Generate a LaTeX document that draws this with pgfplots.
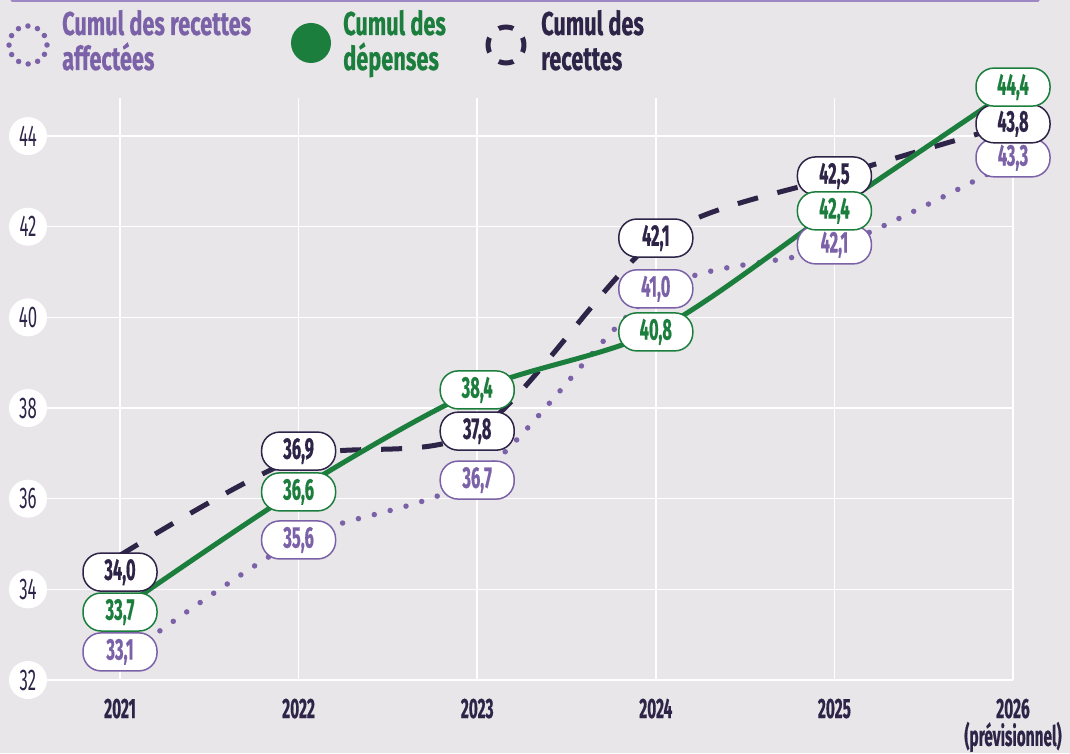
\documentclass[border=0pt]{standalone}
\usepackage{fontspec}
\setmainfont{Fira Sans}[FakeStretch=0.6]
\newfontfamily\fleg{Fira Sans}[FakeStretch=0.66, BoldFeatures={FakeBold=0.5}]
\newfontfamily\fnum{Fira Sans}[FakeStretch=0.55, BoldFeatures={FakeBold=0.5}]
\newfontfamily\ftick{Fira Sans}[FakeStretch=0.56]
\usepackage{pgfplots}
\pgfplotsset{compat=1.18}
\definecolor{bg}{HTML}{E8E6E8}
\definecolor{lpurp}{HTML}{7B62A8}
\definecolor{dgreen}{HTML}{1B7E3D}
\definecolor{dpurp}{HTML}{2E2448}
\definecolor{topl}{HTML}{9E88C4}
\begin{document}
\begin{tikzpicture}[x=1pt,y=1pt]
\useasboundingbox (0,0) rectangle (1070,753);
\fill[bg] (0,0) rectangle (1070,753);
\draw[topl, line width=3pt, line cap=round] (12,752) -- (1038,752);
% legend
\draw[lpurp, line width=5.5pt, line cap=round, dash pattern=on 0pt off 9.95pt] (28,708) circle (19);
\node[anchor=base west, align=left, text=lpurp, font=\fontsize{33}{35}\fleg\bfseries, inner sep=0pt] at (62,683) {Cumul des recettes\\affectées};
\fill[dgreen] (311,710) circle (20);
\node[anchor=base west, align=left, text=dgreen, font=\fontsize{33}{35}\fleg\bfseries, inner sep=0pt] at (343,683) {Cumul des\\dépenses};
\draw[dpurp, line width=5pt, dash pattern=on 15pt off 13.27pt, dash phase=7.5pt] (506,708) circle (18);
\node[anchor=base west, align=left, text=dpurp, font=\fontsize{33}{35}\fleg\bfseries, inner sep=0pt] at (541,683) {Cumul des\\recettes};
\begin{axis}[at={(45pt,73pt)}, anchor=south west, scale only axis,
  width=968pt, height=582pt,
  xmin=2020.58, xmax=2026, ymin=32, ymax=44.84,
  axis line style={draw=none}, major tick length=0pt,
  grid=major, grid style={white, line width=1.5pt},
  xtick={2021,2022,2023,2024,2025,2026},
  xticklabels={2021,2022,2023,2024,2025,{\begin{tabular}[t]{@{}c@{}}2026\\[-4pt](prévisionnel)\end{tabular}}},
  ytick={32,34,36,38,40,42,44},
  xticklabel style={font=\fontsize{28}{26}\fnum\bfseries, text=dpurp, anchor=base, inner sep=0pt, yshift=-38pt},
  yticklabel style={font=\fontsize{30}{30}\ftick, text=dpurp, circle, fill=white, minimum size=38pt, inner sep=0pt, anchor=center, xshift=-17pt},
  /pgf/number format/assume math mode=true,
  clip=false,
]
\addplot[lpurp, line width=5.5pt, line cap=round, dash pattern=on 0pt off 16.4pt, smooth] coordinates {(2021,32.45) (2022,35.1) (2023,36.5) (2024,40.55) (2025,41.55) (2026,43.45)};
\addplot[dpurp, line width=5pt, dash pattern=on 21pt off 20pt, smooth] coordinates {(2021,34.75) (2022,36.9) (2023,37.5) (2024,41.7) (2025,43.1) (2026,44.27)};
\addplot[dgreen, line width=5pt, smooth] coordinates {(2021,33.55) (2022,36.2) (2023,38.4) (2024,39.7) (2025,42.38) (2026,45.05)};
% labels
\addplot[draw=none, mark=none, nodes near coords, point meta=explicit symbolic, nodes near coords align={center},
  every node near coord/.style={draw=lpurp, fill=white, line width=1.5pt, rounded corners=18pt, minimum width=74pt, minimum height=38pt, inner sep=0pt, text=lpurp, font=\fontsize{30}{30}\fnum\bfseries, anchor=center}]
  table[meta=lab] {
x y lab
2021 32.62 33,1
2022 35.09 35,6
2023 36.41 36,7
2024 40.63 41,0
2025 41.60 42,1
2026 43.52 43,3
};
\addplot[draw=none, mark=none, nodes near coords, point meta=explicit symbolic, nodes near coords align={center},
  every node near coord/.style={draw=dpurp, fill=white, line width=1.5pt, rounded corners=18pt, minimum width=74pt, minimum height=38pt, inner sep=0pt, text=dpurp, font=\fontsize{30}{30}\fnum\bfseries, anchor=center}]
  table[meta=lab] {
x y lab
2021 34.38 34,0
2022 37.05 36,9
2023 37.49 37,8
2024 41.75 42,1
2025 43.12 42,5
2026 44.27 43,8
};
\addplot[draw=none, mark=none, nodes near coords, point meta=explicit symbolic, nodes near coords align={center},
  every node near coord/.style={draw=dgreen, fill=white, line width=1.5pt, rounded corners=18pt, minimum width=74pt, minimum height=38pt, inner sep=0pt, text=dgreen, font=\fontsize{30}{30}\fnum\bfseries, anchor=center}]
  table[meta=lab] {
x y lab
2021 33.50 33,7
2022 36.15 36,6
2023 38.40 38,4
2024 39.68 40,8
2025 42.35 42,4
2026 45.08 44,4
};
\end{axis}
\end{tikzpicture}
\end{document}
